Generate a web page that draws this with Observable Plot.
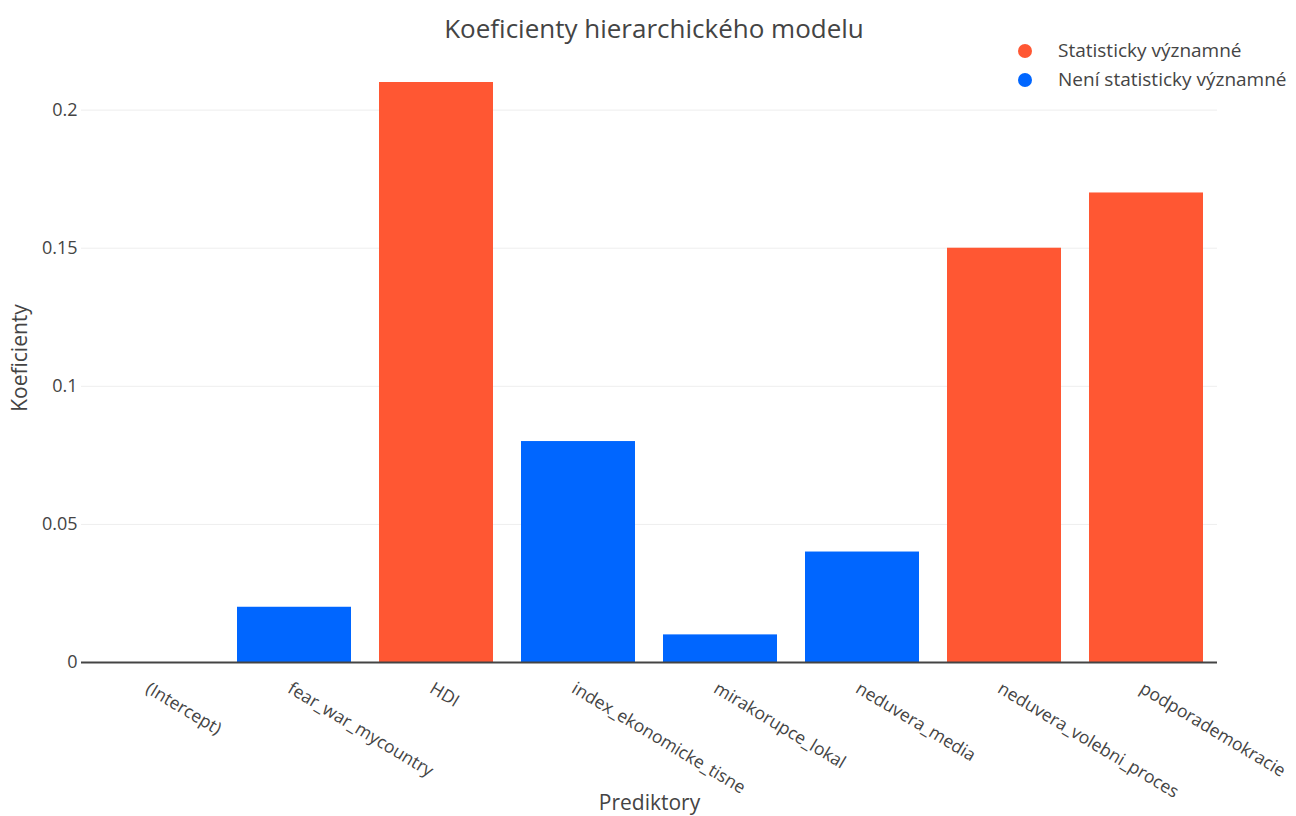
<!DOCTYPE html>
<html>
<head>
<meta charset="utf-8">
<script src="https://cdn.jsdelivr.net/npm/d3@7"></script>
<script src="https://cdn.jsdelivr.net/npm/@observablehq/plot@0.6"></script>
<style>
  html, body { margin: 0; padding: 0; background: #fff; }
  #wrap { position: relative; width: 1296px; height: 816px; font-family: "Open Sans", "DejaVu Sans", sans-serif; color: #444; }
  #title { position: absolute; left: 0; width: 1308px; top: 10px; text-align: center; font-size: 26px; color: #444; }
  .leg { position: absolute; left: 1018px; font-size: 19px; color: #444; white-space: nowrap; }
  .leg span.dot { display: inline-block; width: 14px; height: 14px; border-radius: 50%; margin-right: 26px; vertical-align: -1px; }
</style>
</head>
<body>
<div id="wrap">
  <div id="chart"></div>
  <div id="title">Koeficienty hierarchického modelu</div>
  <div id="legend"></div>
</div>
<script>
const predictors = ["(Intercept)", "fear_war_mycountry", "HDI", "index_ekonomicke_tisne", "mirakorupce_lokal", "neduvera_media", "neduvera_volebni_proces", "podporademokracie"];
const coefficients = [0, 0.02, 0.21, 0.08, 0.01, 0.04, 0.15, 0.17];
const significance = ["Statisticky významné", "Není statisticky významné", "Statisticky významné", "Není statisticky významné", "Není statisticky významné", "Není statisticky významné", "Statisticky významné", "Statisticky významné"];
const groups = ["Statisticky významné", "Není statisticky významné"];
const groupColors = ["#FF5733", "#0066FF"];
const yTicks = [0, 0.05, 0.1, 0.15, 0.2];

const data = predictors.map((p, i) => ({predictor: p, coef: coefficients[i], sig: significance[i]}));

const chart = Plot.plot({
  width: 1296,
  height: 816,
  marginLeft: 81,
  marginRight: 79,
  marginTop: 53,
  marginBottom: 154,
  style: {fontFamily: "'Open Sans', 'DejaVu Sans', sans-serif", color: "#444", background: "#fff"},
  x: {domain: predictors, paddingInner: 0.2, paddingOuter: 0.1},
  y: {domain: [0, 0.2205]},
  color: {domain: groups, range: groupColors},
  marks: [
    Plot.ruleY(yTicks.filter(d => d > 0), {stroke: "#eee", strokeWidth: 1}),
    Plot.barY(data, {x: "predictor", y: "coef", fill: "sig"}),
    Plot.ruleY([0], {stroke: "#444", strokeWidth: 2}),
    Plot.axisY({ticks: yTicks, tickSize: 0, tickPadding: 4, fontSize: 18, tickFormat: d => d === 0 ? "0" : String(d), label: null}),
    Plot.text(["Koeficienty"], {frameAnchor: "left", textAnchor: "middle", dx: -61, rotate: -90, fontSize: 21, fill: "#444"}),
    Plot.axisX({tickSize: 0, tickRotate: 31, textAnchor: "start", lineAnchor: "middle", dy: 12, dx: -5, fontSize: 17.5, label: null}),
    Plot.text(["Prediktory"], {frameAnchor: "bottom", textAnchor: "middle", dy: 147, fontSize: 21, fill: "#444", lineAnchor: "bottom"})
  ]
});
document.getElementById("chart").appendChild(chart);

const leg = document.getElementById("legend");
groups.forEach((g, i) => {
  const d = document.createElement("div");
  d.className = "leg";
  d.style.top = (37 + i * 29) + "px";
  d.innerHTML = `<span class="dot" style="background:${groupColors[i]}"></span>${g}`;
  leg.appendChild(d);
});
</script>
</body>
</html>
